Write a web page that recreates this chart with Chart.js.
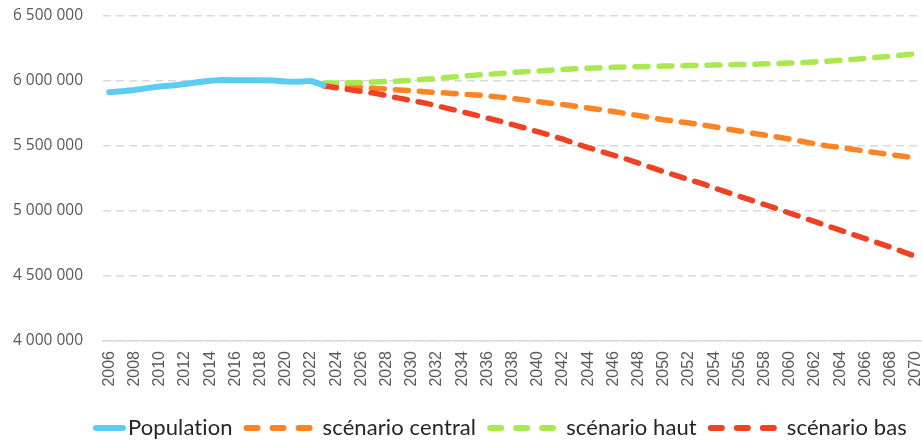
<!DOCTYPE html>
<html>
<head>
<meta charset="utf-8">
<script src="https://cdn.jsdelivr.net/npm/chart.js@4/dist/chart.umd.min.js"></script>
<style>
  html, body { margin: 0; padding: 0; background: #ffffff; overflow: hidden; }
  canvas { display: block; }
</style>
</head>
<body>
<canvas id="chart" width="922" height="441"></canvas>
<script>
// Years on the horizontal axis
const years = [
  2006, 2007, 2008, 2009, 2010, 2011, 2012, 2013, 2014, 2015, 2016, 2017, 2018,
  2019, 2020, 2021, 2022, 2023, 2024, 2025, 2026, 2027, 2028, 2029, 2030, 2031,
  2032, 2033, 2034, 2035, 2036, 2037, 2038, 2039, 2040, 2041, 2042, 2043, 2044,
  2045, 2046, 2047, 2048, 2049, 2050, 2051, 2052, 2053, 2054, 2055, 2056, 2057,
  2058, 2059, 2060, 2061, 2062, 2063, 2064, 2065, 2066, 2067, 2068, 2069, 2070
];

// Observed population, 2006 to 2023
const populationStart = 2006;
const population = [
  5913000, 5921000, 5931000, 5945000, 5957000, 5966000, 5977000, 5990000, 6002000,
  6008000, 6006000, 6005000, 6005000, 6004000, 5996000, 5994000, 6001000, 5968000
];

// Projections, 2023 to 2070
const projectionStart = 2023;
const scenarioCentral = [
  5969000, 5964000, 5958000, 5951000, 5945000, 5938000, 5931000, 5925000, 5918000, 5912000,
  5906000, 5900000, 5893000, 5885000, 5876000, 5866000, 5854000, 5841000, 5829000, 5819000,
  5806000, 5793000, 5780000, 5765000, 5749000, 5734000, 5718000, 5702000, 5690000, 5677000,
  5663000, 5648000, 5632000, 5616000, 5599000, 5584000, 5569000, 5553000, 5535000, 5517000,
  5501000, 5488000, 5475000, 5460000, 5447000, 5434000, 5421000, 5408000
];
const scenarioHaut = [
  5982000, 5984000, 5986000, 5989000, 5992000, 5996000, 6000000, 6006000, 6013000, 6021000,
  6029000, 6037000, 6045000, 6051000, 6057000, 6065000, 6072000, 6077000, 6083000, 6089000,
  6094000, 6099000, 6102000, 6105000, 6108000, 6110000, 6112000, 6115000, 6117000, 6119000,
  6121000, 6123000, 6124000, 6126000, 6129000, 6132000, 6135000, 6138000, 6142000, 6147000,
  6152000, 6159000, 6166000, 6174000, 6182000, 6191000, 6200000, 6210000
];
const scenarioBas = [
  5964000, 5948000, 5934000, 5919000, 5907000, 5888000, 5868000, 5850000, 5832000, 5809000,
  5786000, 5763000, 5739000, 5715000, 5691000, 5665000, 5638000, 5610000, 5583000, 5552000,
  5520000, 5488000, 5459000, 5430000, 5401000, 5368000, 5335000, 5303000, 5272000, 5242000,
  5213000, 5178000, 5145000, 5113000, 5081000, 5050000, 5017000, 4984000, 4951000, 4918000,
  4885000, 4853000, 4820000, 4788000, 4755000, 4722000, 4686000, 4650000
];

// Vertical axis range
const yMin = 4000000;
const yMax = 6500000;
const yStep = 500000;

// Place a series that begins at startYear onto the full year axis
function alignToYears(values, startYear) {
  return years.map(y => {
    const v = values[y - startYear];
    return v === undefined ? null : v;
  });
}

// "6 500 000" style thousands grouping
function groupThousands(v) {
  return String(Math.round(v)).replace(/\B(?=(\d{3})+(?!\d))/g, ' ');
}

const projectionDash = [13, 11];

// Legend row drawn under the axis labels
const bottomLegend = {
  id: 'bottomLegend',
  afterDraw(chart) {
    const ctx = chart.ctx;
    const y = 428;
    let x = 93;
    ctx.save();
    ctx.font = '22px Lato';
    ctx.textBaseline = 'middle';
    ctx.textAlign = 'left';
    if ('letterSpacing' in ctx) ctx.letterSpacing = '0.1px';
    chart.data.datasets.forEach(ds => {
      const dashed = ds.borderDash && ds.borderDash.length;
      const sample = dashed ? 70 : 33;
      ctx.strokeStyle = ds.borderColor;
      ctx.lineWidth = 6;
      ctx.lineCap = 'round';
      ctx.setLineDash(dashed ? [11, 15] : []);
      ctx.beginPath();
      ctx.moveTo(x + 3, y);
      ctx.lineTo(x + sample - 3, y);
      ctx.stroke();
      x += sample + (dashed ? 9 : 2);
      ctx.setLineDash([]);
      ctx.fillStyle = '#262626';
      ctx.fillText(ds.label, x, y);
      x += ctx.measureText(ds.label).width + 11;
    });
    ctx.restore();
  }
};

new Chart(document.getElementById('chart').getContext('2d'), {
  type: 'line',
  data: {
    labels: years.map(String),
    datasets: [
      {
        label: 'Population',
        data: alignToYears(population, populationStart),
        borderColor: '#5ecbf4',
        borderWidth: 6,
        order: 0
      },
      {
        label: 'scénario central',
        data: alignToYears(scenarioCentral, projectionStart),
        borderColor: '#fd8424',
        borderWidth: 5.5,
        borderDash: projectionDash,
        order: 3
      },
      {
        label: 'scénario haut',
        data: alignToYears(scenarioHaut, projectionStart),
        borderColor: '#a9e94f',
        borderWidth: 5.5,
        borderDash: projectionDash,
        order: 2
      },
      {
        label: 'scénario bas',
        data: alignToYears(scenarioBas, projectionStart),
        borderColor: '#ef4225',
        borderWidth: 5.5,
        borderDash: projectionDash,
        order: 1
      }
    ]
  },
  options: {
    responsive: false,
    animation: false,
    devicePixelRatio: 1,
    layout: { padding: { top: 16, right: 0, bottom: 0, left: 0 } },
    elements: {
      point: { radius: 0, hoverRadius: 0 },
      line: { tension: 0, borderCapStyle: 'round', borderJoinStyle: 'round', fill: false }
    },
    plugins: {
      legend: { display: false },
      tooltip: { enabled: false }
    },
    scales: {
      x: {
        type: 'category',
        offset: true,
        grid: { display: false, drawTicks: false },
        border: { display: true, color: '#d9d9d9', width: 1.5 },
        ticks: {
          autoSkip: false,
          minRotation: 90,
          maxRotation: 90,
          padding: 10,
          color: '#595959',
          font: { family: 'Liberation Sans', size: 16 },
          callback: (v, i) => (i % 2 === 0 ? String(years[i]) : '')
        },
        afterFit(scale) {
          scale.height = 100;
          scale.paddingLeft = 0;
          scale.paddingRight = 0;
        }
      },
      y: {
        min: yMin,
        max: yMax,
        grid: { color: '#d9d9d9', lineWidth: 1.5, drawTicks: false },
        border: { display: false, dash: [8, 5] },
        ticks: {
          stepSize: yStep,
          padding: 20,
          color: '#595959',
          font: { family: 'Open Sans', size: 15.5 },
          callback: v => groupThousands(v)
        },
        afterFit(scale) {
          scale.width = 103;
          scale.paddingTop = 0;
          scale.paddingBottom = 0;
        }
      }
    }
  },
  plugins: [bottomLegend]
});
</script>
</body>
</html>
